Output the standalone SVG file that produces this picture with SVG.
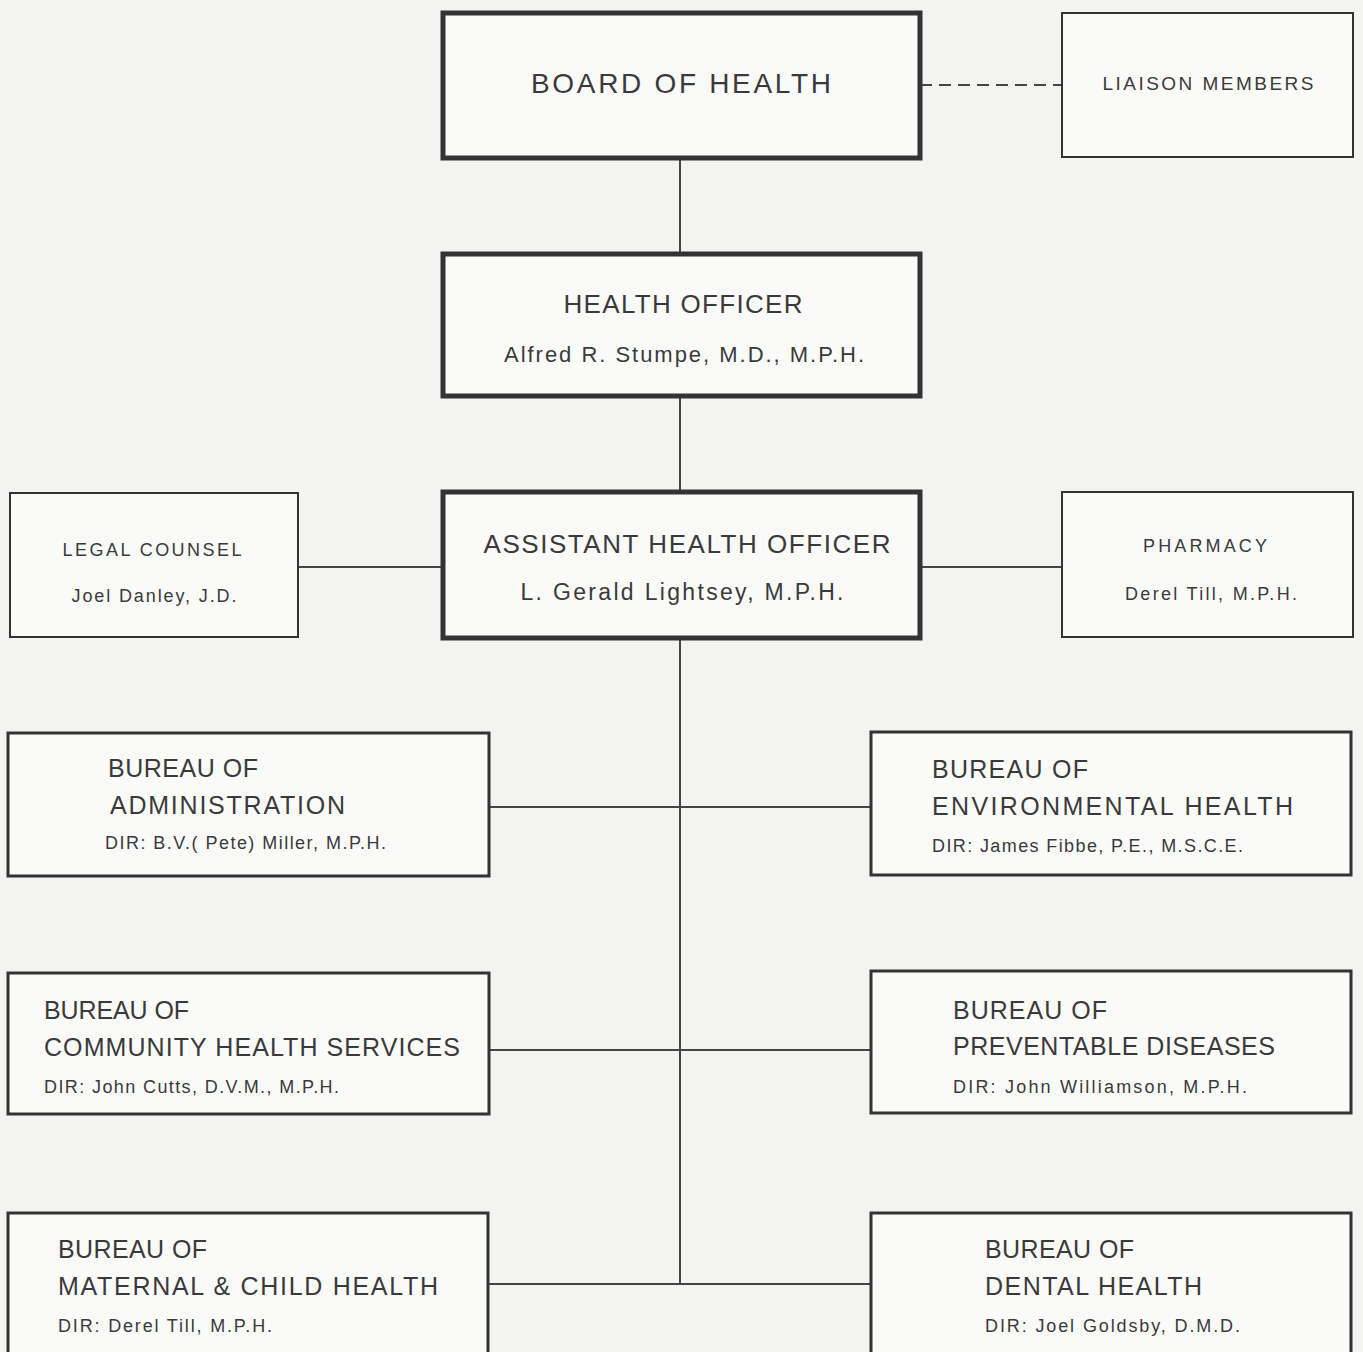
<svg xmlns="http://www.w3.org/2000/svg" width="1363" height="1352" viewBox="0 0 1363 1352">
<style>
.bg{fill:#f3f3f1}
.box{fill:#fafaf9;stroke:#333;}
.thick{stroke-width:5}
.med{stroke-width:3}
.thin{stroke-width:2}
.t{font-family:"Liberation Sans",Arial,sans-serif;fill:#3a3a3a}
.c{text-anchor:middle}
.line{stroke:#444;stroke-width:2;fill:none}
</style>
<rect class="bg" x="0" y="0" width="1363" height="1352"/>
<g id="connectors">
<line class="line" x1="680" y1="158" x2="680" y2="254"/>
<line class="line" x1="680" y1="396" x2="680" y2="492"/>
<line class="line" x1="680" y1="638" x2="680" y2="1284"/>
<line class="line" x1="920" y1="85" x2="1062" y2="85" stroke-dasharray="12,7"/>
<line class="line" x1="298" y1="567" x2="443" y2="567"/>
<line class="line" x1="920" y1="567" x2="1062" y2="567"/>
<line class="line" x1="489" y1="807" x2="871" y2="807"/>
<line class="line" x1="489" y1="1050" x2="871" y2="1050"/>
<line class="line" x1="488" y1="1284" x2="871" y2="1284"/>
</g>
<g id="board">
<rect class="box thick" x="443" y="13" width="477" height="145"/>
<text class="t c" x="681" y="93" font-size="28" textLength="300">BOARD OF HEALTH</text>
</g>
<g id="liaison">
<rect class="box thin" x="1062" y="13" width="291" height="144"/>
<text class="t c" x="1208" y="90" font-size="19" textLength="211">LIAISON MEMBERS</text>
</g>
<g id="health-officer">
<rect class="box thick" x="443" y="254" width="477" height="142"/>
<text class="t c" x="683" y="313" font-size="26" textLength="239">HEALTH OFFICER</text>
<text class="t c" x="684" y="362" font-size="22" textLength="360">Alfred R. Stumpe, M.D., M.P.H.</text>
</g>
<g id="assistant">
<rect class="box thick" x="443" y="492" width="477" height="146"/>
<text class="t c" x="687" y="553" font-size="26" textLength="407">ASSISTANT HEALTH OFFICER</text>
<text class="t c" x="682" y="600" font-size="23" textLength="323">L. Gerald Lightsey, M.P.H.</text>
</g>
<g id="legal">
<rect class="box thin" x="10" y="493" width="288" height="144"/>
<text class="t c" x="152" y="556" font-size="18" textLength="179">LEGAL COUNSEL</text>
<text class="t c" x="154" y="602" font-size="18" textLength="165">Joel Danley, J.D.</text>
</g>
<g id="pharmacy">
<rect class="box thin" x="1062" y="492" width="291" height="145"/>
<text class="t c" x="1205" y="552" font-size="18" textLength="124">PHARMACY</text>
<text class="t c" x="1211" y="600" font-size="18" textLength="172">Derel Till, M.P.H.</text>
</g>
<g id="admin">
<rect class="box med" x="8" y="733" width="481" height="143"/>
<text class="t" x="108" y="777" font-size="25" textLength="150">BUREAU OF</text>
<text class="t" x="110" y="814" font-size="25" textLength="235">ADMINISTRATION</text>
<text class="t" x="105" y="849" font-size="18" textLength="281">DIR: B.V.( Pete) Miller, M.P.H.</text>
</g>
<g id="environmental">
<rect class="box med" x="871" y="732" width="480" height="143"/>
<text class="t" x="932" y="778" font-size="25" textLength="156">BUREAU OF</text>
<text class="t" x="932" y="815" font-size="25" textLength="361">ENVIRONMENTAL HEALTH</text>
<text class="t" x="932" y="852" font-size="18" textLength="311">DIR: James Fibbe, P.E., M.S.C.E.</text>
</g>
<g id="community">
<rect class="box med" x="8" y="973" width="481" height="141"/>
<text class="t" x="44" y="1019" font-size="25" textLength="145">BUREAU OF</text>
<text class="t" x="44" y="1056" font-size="25" textLength="416">COMMUNITY HEALTH SERVICES</text>
<text class="t" x="44" y="1093" font-size="18" textLength="295">DIR: John Cutts, D.V.M., M.P.H.</text>
</g>
<g id="preventable">
<rect class="box med" x="871" y="971" width="480" height="142"/>
<text class="t" x="953" y="1019" font-size="25" textLength="154">BUREAU OF</text>
<text class="t" x="953" y="1055" font-size="25" textLength="322">PREVENTABLE DISEASES</text>
<text class="t" x="953" y="1093" font-size="18" textLength="294">DIR: John Williamson, M.P.H.</text>
</g>
<g id="maternal">
<rect class="box med" x="8" y="1213" width="480" height="150"/>
<text class="t" x="58" y="1258" font-size="25" textLength="149">BUREAU OF</text>
<text class="t" x="58" y="1295" font-size="25" textLength="380">MATERNAL &amp; CHILD HEALTH</text>
<text class="t" x="58" y="1332" font-size="18" textLength="214">DIR: Derel Till, M.P.H.</text>
</g>
<g id="dental">
<rect class="box med" x="871" y="1213" width="480" height="150"/>
<text class="t" x="985" y="1258" font-size="25" textLength="149">BUREAU OF</text>
<text class="t" x="985" y="1295" font-size="25" textLength="217">DENTAL HEALTH</text>
<text class="t" x="985" y="1332" font-size="18" textLength="255">DIR: Joel Goldsby, D.M.D.</text>
</g>
</svg>
